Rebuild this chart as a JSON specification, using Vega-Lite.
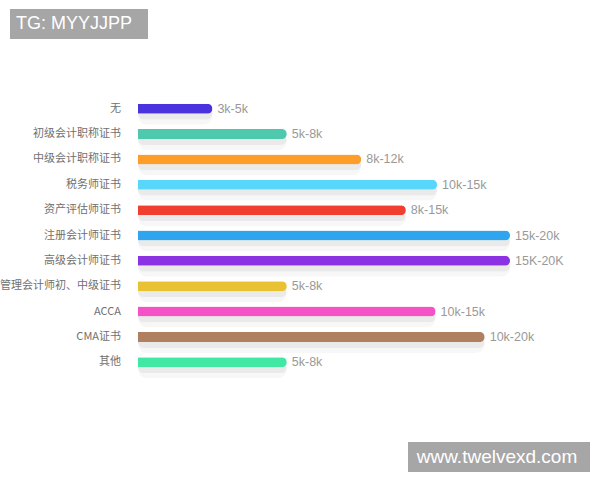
{
  "$schema": "https://vega.github.io/schema/vega-lite/v6.json",
  "padding": {"left": 0, "top": 9, "right": 0, "bottom": 0},
  "background": "white",
  "config": {"view": {"stroke": null}},
  "spacing": 57,
  "datasets": {
    "certs": [
      {"cat": "无", "v": 1, "range": "3k-5k"},
      {"cat": "初级会计职称证书", "v": 2, "range": "5k-8k"},
      {"cat": "中级会计职称证书", "v": 3, "range": "8k-12k"},
      {"cat": "税务师证书", "v": 4.02, "range": "10k-15k"},
      {"cat": "资产评估师证书", "v": 3.6, "range": "8k-15k"},
      {"cat": "注册会计师证书", "v": 5, "range": "15k-20k"},
      {"cat": "高级会计师证书", "v": 5, "range": "15K-20K"},
      {"cat": "管理会计师初、中级证书", "v": 2, "range": "5k-8k"},
      {"cat": "ACCA", "v": 4, "range": "10k-15k"},
      {"cat": "CMA证书", "v": 4.66, "range": "10k-20k"},
      {"cat": "其他", "v": 2, "range": "5k-8k"}
    ]
  },
  "vconcat": [
    {
      "spacing": 9,
      "hconcat": [
        {"width": 1, "height": 30, "data": {"values": []}, "mark": {"type": "text"}, "encoding": {}},
        {
          "width": 138, "height": 30,
          "view": {"fill": "#a6a6a6", "stroke": null},
          "data": {"values": [{"t": "TG: MYYJJPP"}]},
          "mark": {"type": "text", "color": "white", "fontSize": 18, "font": "Liberation Sans", "baseline": "middle", "dx": -5},
          "encoding": {"text": {"field": "t"}}
        }
      ]
    },
    {
      "spacing": 63,
      "vconcat": [
        {
          "spacing": 17,
          "hconcat": [
            {
              "width": 121,
              "height": 279,
              "data": {"name": "certs"},
              "mark": {"type": "text", "align": "right", "baseline": "middle", "fontSize": 11, "color": "#707070", "font": "Noto Sans CJK SC"},
              "encoding": {
                "y": {"field": "cat", "type": "nominal", "sort": null, "scale": {"paddingInner": 0, "paddingOuter": 0}, "axis": null},
                "x": {"datum": 1, "type": "quantitative", "scale": {"domain": [0, 1], "nice": false}, "axis": null},
                "text": {"field": "cat"}
              }
            },
            {
              "width": 372,
              "height": 279,
              "data": {"name": "certs"},
              "encoding": {
                "y": {"field": "cat", "type": "nominal", "sort": null, "scale": {"paddingInner": 0, "paddingOuter": 0}, "axis": null},
                "x": {"field": "v", "type": "quantitative", "scale": {"domain": [0, 5], "nice": false}, "axis": null}
              },
              "layer": [
                {"mark": {"type": "bar", "size": 18, "yOffset": 7, "color": "#000000", "opacity": 0.03, "cornerRadius": 9}},
                {"mark": {"type": "bar", "size": 12, "yOffset": 5, "color": "#000000", "opacity": 0.05, "cornerRadius": 6}},
                {
                  "mark": {"type": "bar", "size": 10, "cornerRadiusEnd": 5},
                  "encoding": {
                    "color": {
                      "field": "cat", "type": "nominal", "legend": null,
                      "scale": {
                        "domain": ["无", "初级会计职称证书", "中级会计职称证书", "税务师证书", "资产评估师证书", "注册会计师证书", "高级会计师证书", "管理会计师初、中级证书", "ACCA", "CMA证书", "其他"],
                        "range": ["#4a33de", "#4fc9ad", "#ff9d2b", "#58d7fa", "#f03f2e", "#2ea5ee", "#8b33e2", "#e9c234", "#f652c8", "#b07f5f", "#40e8a4"]
                      }
                    }
                  }
                },
                {
                  "mark": {"type": "text", "align": "left", "dx": 5, "baseline": "middle", "fontSize": 12.5, "color": "#999999", "font": "Liberation Sans"},
                  "encoding": {"text": {"field": "range"}}
                }
              ]
            }
          ]
        },
        {
          "spacing": 10,
          "hconcat": [
            {"width": 398, "height": 30, "data": {"values": []}, "mark": {"type": "text"}, "encoding": {}},
            {
              "width": 182, "height": 30,
              "view": {"fill": "#a6a6a6", "stroke": null},
              "data": {"values": [{"t": "www.twelvexd.com"}]},
              "mark": {"type": "text", "color": "white", "fontSize": 19, "font": "Liberation Sans", "baseline": "middle", "dx": -2},
              "encoding": {"text": {"field": "t"}}
            }
          ]
        }
      ]
    }
  ]
}
